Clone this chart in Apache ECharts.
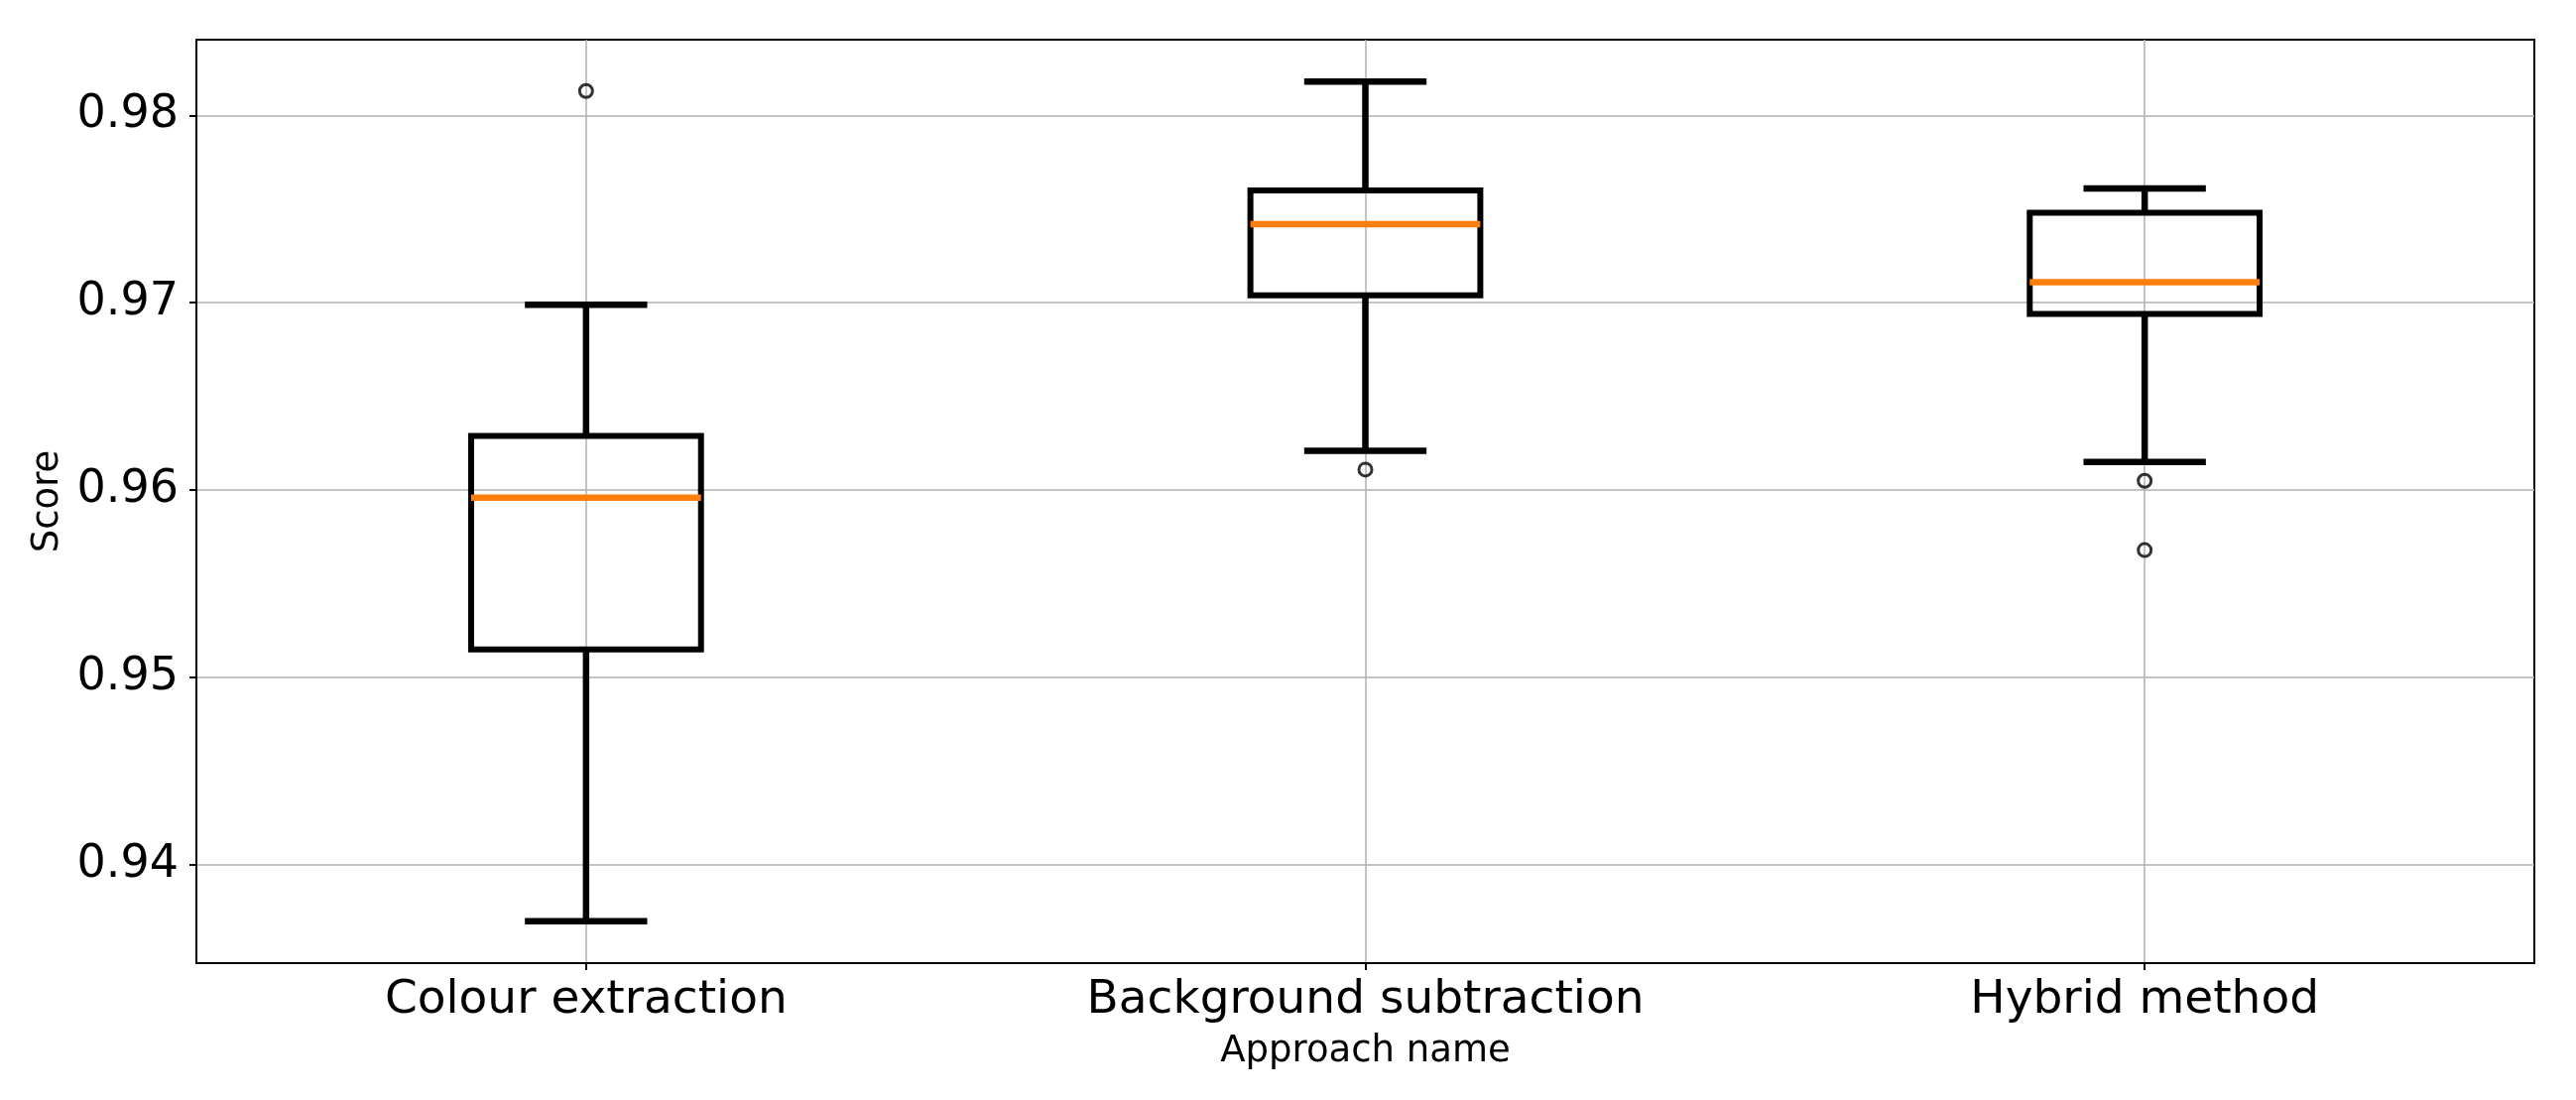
<!DOCTYPE html>
<html>
<head>
<meta charset="utf-8">
<script src="https://cdn.jsdelivr.net/npm/echarts@6/dist/echarts.min.js"></script>
<style>
html,body{margin:0;padding:0;background:#fff;}
#chart{width:2597px;height:1109px;}
</style>
</head>
<body>
<div id="chart"></div>
<script>
// ---- data ----
const categories = ['Colour extraction', 'Background subtraction', 'Hybrid method'];
const whiskerLow = [0.9370, 0.9621, 0.9615];
const q1s        = [0.9515, 0.9704, 0.9694];
const medians    = [0.9596, 0.9742, 0.9711];
const q3s        = [0.9629, 0.9760, 0.9748];
const whiskerHigh= [0.9699, 0.9818, 0.9761];
const outliers   = [[0, 0.9813], [1, 0.9611], [2, 0.9605], [2, 0.9568]];
const yTicks     = [0.94, 0.95, 0.96, 0.97, 0.98];

// ---- build ----
const boxData = categories.map((c, i) => [i, whiskerLow[i], q1s[i], medians[i], q3s[i], whiskerHigh[i]]);
const allVals = whiskerLow.concat(whiskerHigh, outliers.map(o => o[1]));
const dMin = Math.min.apply(null, allVals), dMax = Math.max.apply(null, allVals);
const pad = (dMax - dMin) * 0.05;

const FONT = 'DejaVu Sans';
const chart = echarts.init(document.getElementById('chart'), null, {renderer: 'canvas'});
chart.setOption({
  animation: false,
  backgroundColor: '#fff',
  grid: {left: 198, right: 42, top: 40, bottom: 138, show: true, borderColor: '#000', borderWidth: 2, backgroundColor: 'transparent'},
  xAxis: {
    type: 'category',
    data: categories,
    boundaryGap: true,
    name: 'Approach name',
    nameLocation: 'middle',
    nameGap: 71,
    nameTextStyle: {fontFamily: FONT, fontSize: 37, color: '#000', lineHeight: 37},
    axisLine: {show: true, lineStyle: {color: '#000', width: 2}},
    axisTick: {show: true, alignWithLabel: true, length: 7, lineStyle: {color: '#000', width: 2}},
    axisLabel: {fontFamily: FONT, fontSize: 47, color: '#000', margin: 14, lineHeight: 47},
    splitLine: {show: true, alignWithLabel: true, lineStyle: {color: '#b0b0b0', width: 1.5}}
  },
  yAxis: {
    type: 'value',
    min: dMin - pad,
    max: dMax + pad,
    name: 'Score',
    nameLocation: 'middle',
    nameGap: 131,
    nameRotate: 90,
    nameTextStyle: {fontFamily: FONT, fontSize: 37, color: '#000', lineHeight: 37},
    axisLine: {show: true, lineStyle: {color: '#000', width: 2}},
    axisTick: {show: true, length: 7, customValues: yTicks, lineStyle: {color: '#000', width: 2}},
    axisLabel: {fontFamily: FONT, fontSize: 46, color: '#000', margin: 18, customValues: yTicks,
      formatter: v => v.toFixed(2)},
    splitLine: {show: true, lineStyle: {color: '#b0b0b0', width: 1.5}}
  },
  series: [
    {
      type: 'custom',
      data: boxData,
      encode: {x: 0, y: [1, 2, 3, 4, 5]},
      z: 5,
      renderItem: function (params, api) {
        const i = api.value(0);
        const band = api.size([1, 0])[0];
        const x = api.coord([i, api.value(3)])[0];
        const yLo = api.coord([i, api.value(1)])[1];
        const yQ1 = api.coord([i, api.value(2)])[1];
        const yMed = api.coord([i, api.value(3)])[1];
        const yQ3 = api.coord([i, api.value(4)])[1];
        const yHi = api.coord([i, api.value(5)])[1];
        const bw = band * 0.295 / 2, cw = band * 0.157 / 2;
        const blk = {stroke: '#000', lineWidth: 6.5, fill: null};
        return {
          type: 'group',
          children: [
            {type: 'line', shape: {x1: x, y1: yQ1, x2: x, y2: yLo}, style: blk},
            {type: 'line', shape: {x1: x, y1: yQ3, x2: x, y2: yHi}, style: blk},
            {type: 'line', shape: {x1: x - cw, y1: yLo, x2: x + cw, y2: yLo}, style: blk},
            {type: 'line', shape: {x1: x - cw, y1: yHi, x2: x + cw, y2: yHi}, style: blk},
            {type: 'rect', shape: {x: x - bw, y: yQ3, width: 2 * bw, height: yQ1 - yQ3},
              style: {stroke: '#000', lineWidth: 6, fill: null, lineJoin: 'miter'}},
            {type: 'line', shape: {x1: x - bw, y1: yMed, x2: x + bw, y2: yMed},
              style: {stroke: '#ff7f0e', lineWidth: 6.5}}
          ]
        };
      }
    },
    {
      type: 'scatter',
      data: outliers,
      symbol: 'circle',
      symbolSize: 13,
      z: 6,
      itemStyle: {color: 'rgba(0,0,0,0)', borderColor: '#000', borderWidth: 3}
    }
  ]
});
</script>
</body>
</html>
